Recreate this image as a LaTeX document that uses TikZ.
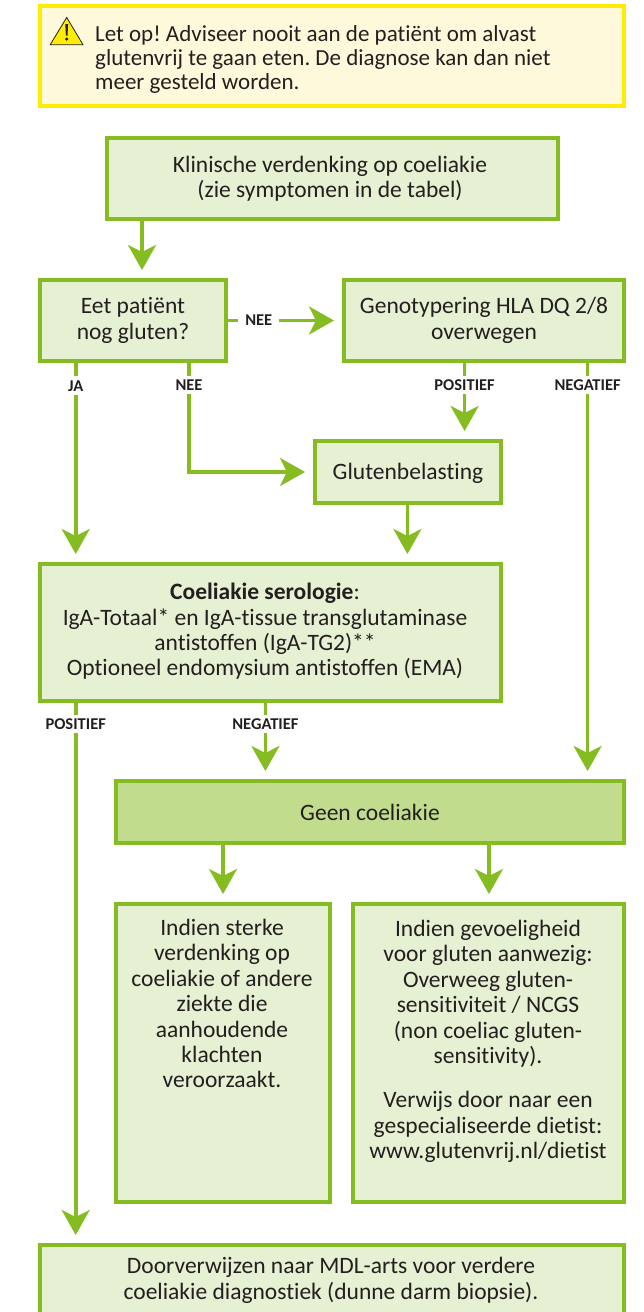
\documentclass[tikz,border=0pt]{standalone}
\usepackage{fontspec}
\setmainfont[Ligatures=NoCommon]{Carlito}
\usetikzlibrary{arrows.meta}
\definecolor{gr}{HTML}{85BC22}
\definecolor{lgr}{HTML}{E6F0D2}
\definecolor{mgr}{HTML}{C2DC8E}
\definecolor{wy}{HTML}{FFED00}
\definecolor{wf}{HTML}{FFF9DC}
\definecolor{tx}{HTML}{231F20}
\frenchspacing
\tikzset{
  gbox/.style={draw=gr,fill=lgr,line width=4pt,rectangle,inner sep=0pt},
  dbox/.style={gbox,fill=mgr},
  wbox/.style={draw=wy,fill=wf,line width=4pt,rectangle,inner sep=0pt},
  txt/.style={text=tx,align=center,inner sep=0pt,font=\fontsize{23.5}{25.4}\selectfont},
  lbl/.style={text=tx,fill=white,inner xsep=3pt,inner ysep=4pt,font=\fontsize{16.5}{18}\bfseries\selectfont},
  conn/.style={draw=gr,line width=3.6pt,-{Stealth[length=25pt,width=28pt,inset=7pt]},shorten >=8pt},
}
\begin{document}
\begin{tikzpicture}[x=1pt,y=-1pt]
\useasboundingbox (0,0) rectangle (643,1312);
\clip (0,0) rectangle (643,1312);
% warning
\node[wbox,minimum width=584pt,minimum height=100pt] (warn) at (332,56) {};
\filldraw[draw=tx,fill=wy,line width=0.8pt,line join=miter] (66.7,17.5) -- (83,44.7) -- (50.2,44.7) -- cycle;
\fill[tx] (65.3,24) -- (68.1,24) -- (67.5,35.5) -- (65.9,35.5) -- cycle;
\fill[tx] (66.7,39) circle (1.7);
\node[txt,align=left,anchor=west,font=\fontsize{23}{24}\selectfont] (warntext) at (95,59) {Let op! Adviseer nooit aan de patiënt om alvast\\glutenvrij te gaan eten. De diagnose kan dan niet\\meer gesteld worden.};
% boxes
\node[gbox,minimum width=451.5pt,minimum height=81pt] (b1) at (332.25,178.5) {};
\node[txt] (t1) at (330,178.5) {Klinische verdenking op coeliakie\\(zie symptomen in de tabel)};
\node[gbox,minimum width=186pt,minimum height=81pt] (b2) at (133,320.5) {};
\node[txt] (t2) at (133,320.5) {Eet patiënt\\nog gluten?};
\node[gbox,minimum width=280pt,minimum height=81pt] (b3) at (484,320.5) {};
\node[txt] (t3) at (484,320.5) {Genotypering HLA DQ 2/8\\overwegen};
\node[gbox,minimum width=186pt,minimum height=62pt] (b4) at (408,472) {};
\node[txt] (t4) at (408,473) {Glutenbelasting};
\node[gbox,minimum width=461pt,minimum height=137pt] (b5) at (270.5,632.5) {};
\node[txt] (t5) at (265,631.5) {\textbf{Coeliakie serologie}:\\IgA-Totaal* en IgA-tissue transglutaminase\\antistoffen (IgA-TG2)**\\Optioneel endomysium antistoffen (EMA)};
\node[dbox,minimum width=508pt,minimum height=62pt] (b6) at (370,812) {};
\node[txt] (t6) at (370,812) {Geen coeliakie};
\node[gbox,minimum width=214pt,minimum height=298pt] (b7) at (223,1053) {};
\node[txt,anchor=north] (t7) at (222,919) {Indien sterke\\verdenking op\\coeliakie of andere\\ziekte die\\aanhoudende\\klachten\\veroorzaakt.};
\node[gbox,minimum width=271.5pt,minimum height=298pt] (b8) at (488.3,1053) {};
\node[txt,anchor=north] (t8) at (488,920) {Indien gevoeligheid\\voor gluten aanwezig:\\Overweeg gluten-\\sensitiviteit / NCGS\\(non coeliac gluten-\\sensitivity).\\[18.7pt]Verwijs door naar een\\gespecialiseerde dietist:\\www.glutenvrij.nl/dietist};
\node[gbox,minimum width=584pt,minimum height=97pt] (b9) at (332,1293.5) {};
\node[txt] (t9) at (331,1280.5) {Doorverwijzen naar MDL-arts voor verdere\\coeliakie diagnostiek (dunne darm biopsie).};
% routing coordinates
\coordinate (xa) at (142,0);
\coordinate (xja) at (75.7,0);
\coordinate (xnee) at (189,0);
\coordinate (xpos) at (464.6,0);
\coordinate (xneg) at (587.6,0);
\coordinate (xg) at (407.4,0);
\coordinate (xn2) at (265.4,0);
\coordinate (xl) at (223,0);
\coordinate (xr) at (489,0);
\coordinate (lbly) at (0,385);
\coordinate (lbly2) at (0,724);
% connectors
\draw[conn] (b1.south -| xa) -- (b2.north -| xa);
\draw[conn] (b2.east) -- node[lbl,pos=0.27,inner xsep=7pt] (lnee) {NEE} (b3.west);
\draw[conn] (b2.south -| xja) -- node[lbl,pos=0.115] (lja) {JA} (b5.north -| xja);
\draw[conn] (b2.south -| xnee) -- (xnee |- b4.west) -- (b4.west);
\node[lbl] (lnee2) at (xnee |- lbly) {NEE};
\draw[conn] (b3.south -| xpos) -- (b4.north -| xpos);
\node[lbl] (lpos) at (xpos |- lbly) {POSITIEF};
\draw[conn] (b3.south -| xneg) -- (b6.north -| xneg);
\node[lbl] (lneg) at (xneg |- lbly) {NEGATIEF};
\draw[conn] (b4.south -| xg) -- (b5.north -| xg);
\draw[conn] (b5.south -| xja) -- (b9.north -| xja);
\node[lbl] (lpos2) at (xja |- lbly2) {POSITIEF};
\draw[conn] (b5.south -| xn2) -- (b6.north -| xn2);
\node[lbl] (lneg2) at (xn2 |- lbly2) {NEGATIEF};
\draw[conn] (b6.south -| xl) -- (b7.north -| xl);
\draw[conn] (b6.south -| xr) -- (b8.north -| xr);
\end{tikzpicture}
\end{document}
